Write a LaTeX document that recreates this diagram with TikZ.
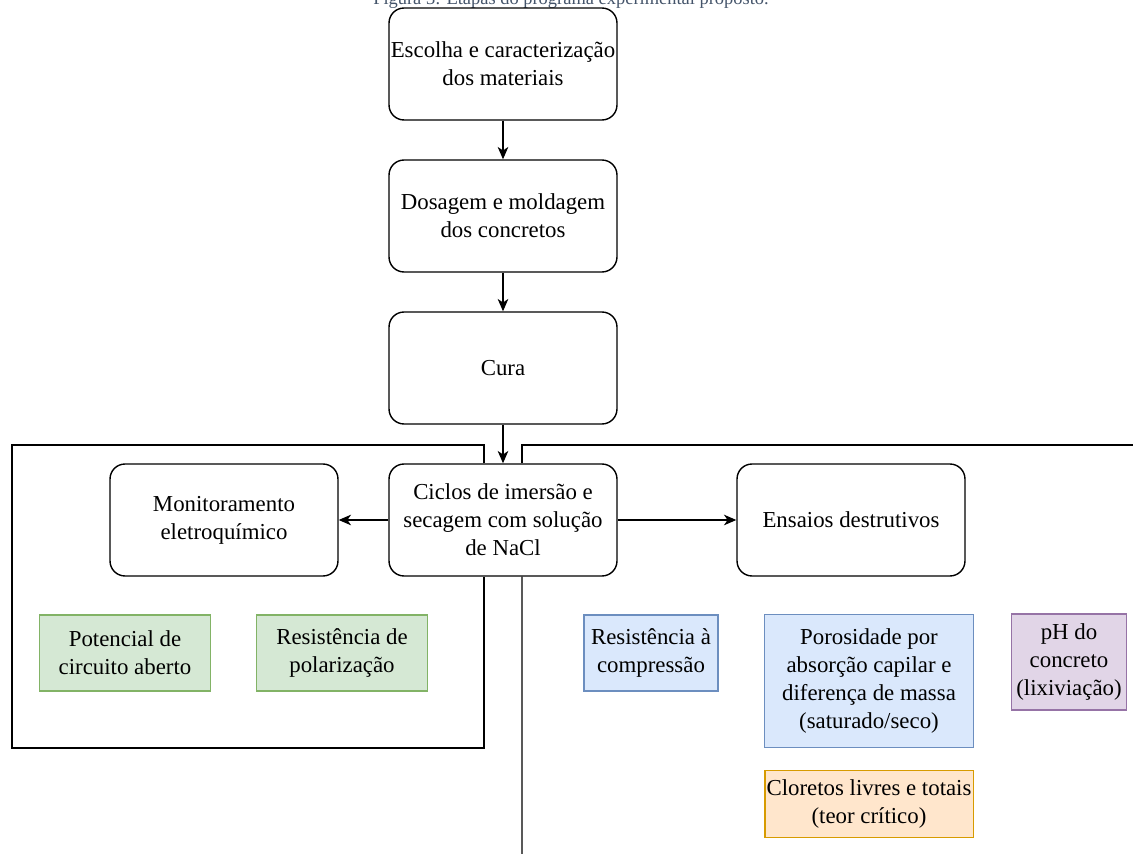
\documentclass[tikz,border=0pt]{standalone}
\usepackage{fontspec}
\setmainfont{Liberation Serif}
\usetikzlibrary{arrows.meta}

\definecolor{legendaAzul}{RGB}{68,84,106}
\definecolor{verdeFundo}{HTML}{D5E8D4}\definecolor{verdeBorda}{HTML}{82B366}
\definecolor{azulFundo}{HTML}{DAE8FC}\definecolor{azulBorda}{HTML}{6C8EBF}
\definecolor{roxoFundo}{HTML}{E1D5E7}\definecolor{roxoBorda}{HTML}{9673A6}
\definecolor{laranjaFundo}{HTML}{FFE6CC}\definecolor{laranjaBorda}{HTML}{D79B00}

\begin{document}
\begin{tikzpicture}[x=0.02cm,y=-0.02cm,
		every node/.style={font=\fontsize{13}{16}\selectfont, align=center},
		etapa/.style={draw, line width=0.8pt, rounded corners=0.3cm, inner xsep=0pt, minimum width=4.56cm, minimum height=2.24cm},
		ensaio/.style={line width=0.8pt, inner xsep=1pt},
		seta/.style={line width=0.8pt, -{Stealth[length=7pt,width=6pt,inset=2pt]}},
		moldura/.style={line width=0.8pt}]
		%NOTE! Coordinates are in pixels, y grows downwards
		\useasboundingbox (0,0) rectangle (1133,854);
		
		% Caption, cut by the page edge
		\node[anchor=base, font=\fontsize{10.5}{12}\selectfont, text=legendaAzul] (legenda) at (571,5) {Figura 3: Etapas do programa experimental proposto.};
		
		% Main sequence of steps
		\foreach \nome/\y/\texto in {
				escolha/64/{Escolha e caracterização\\dos materiais},
				dosagem/216/{Dosagem e moldagem\\dos concretos},
				cura/368/{Cura},
				ciclos/520/{Ciclos de imersão e\\secagem com solução\\de NaCl}}{
			\node[etapa] (\nome) at (503,\y) {\texto};
		}
		\node[etapa] (monitor) at (224,520) {Monitoramento\\eletroquímico};
		\node[etapa] (destrutivos) at (851,520) {Ensaios destrutivos};
		
		% Arrows between the steps
		\foreach \a/\b in {escolha/dosagem, dosagem/cura, cura/ciclos}{
			\draw[seta] (\a) -- (\b);
		}
		\draw[seta] (ciclos) -- (monitor);
		\draw[seta] (ciclos) -- (destrutivos);
		
		% Tests (coloured boxes)
		\node[ensaio, draw=verdeBorda, fill=verdeFundo, minimum width=3.42cm, minimum height=1.52cm] (potencial) at (125,653) {Potencial de\\circuito aberto};
		\node[ensaio, draw=verdeBorda, fill=verdeFundo, minimum width=3.42cm, minimum height=1.52cm] (polarizacao) at (342,653) {Resistência de\\polarização};
		\node[ensaio, draw=azulBorda, fill=azulFundo, minimum width=2.68cm, minimum height=1.52cm] (compressao) at (651,653) {Resistência à\\compressão};
		\node[ensaio, draw=azulBorda, fill=azulFundo, minimum width=4.18cm, minimum height=2.66cm] (porosidade) at (869,681) {Porosidade por\\absorção capilar e\\diferença de massa\\(saturado/seco)};
		\node[ensaio, draw=roxoBorda, fill=roxoFundo, minimum width=2.3cm, minimum height=1.92cm] (ph) at (1069,662) {pH do\\concreto\\(lixiviação)};
		\node[ensaio, draw=laranjaBorda, fill=laranjaFundo, minimum width=4.16cm, minimum height=1.34cm] (cloretos) at (869,804) {Cloretos livres e totais\\(teor crítico)};
		
		% Frames around the two groups
		\coordinate (cantoE) at (12,445);
		\coordinate (fundoE) at (12,748);
		\coordinate (cantoD) at (1133,445);
		\coordinate (baseD) at (522,854);
		\draw[moldura] ([xshift=-0.38cm]ciclos.north) |- (cantoE) -- (fundoE) -| ([xshift=-0.38cm]ciclos.south);
		\draw[moldura] ([xshift=0.38cm]ciclos.north) |- (cantoD);
		\draw[moldura] ([xshift=0.38cm]ciclos.south) -- (baseD);
	\end{tikzpicture}
\end{document}
